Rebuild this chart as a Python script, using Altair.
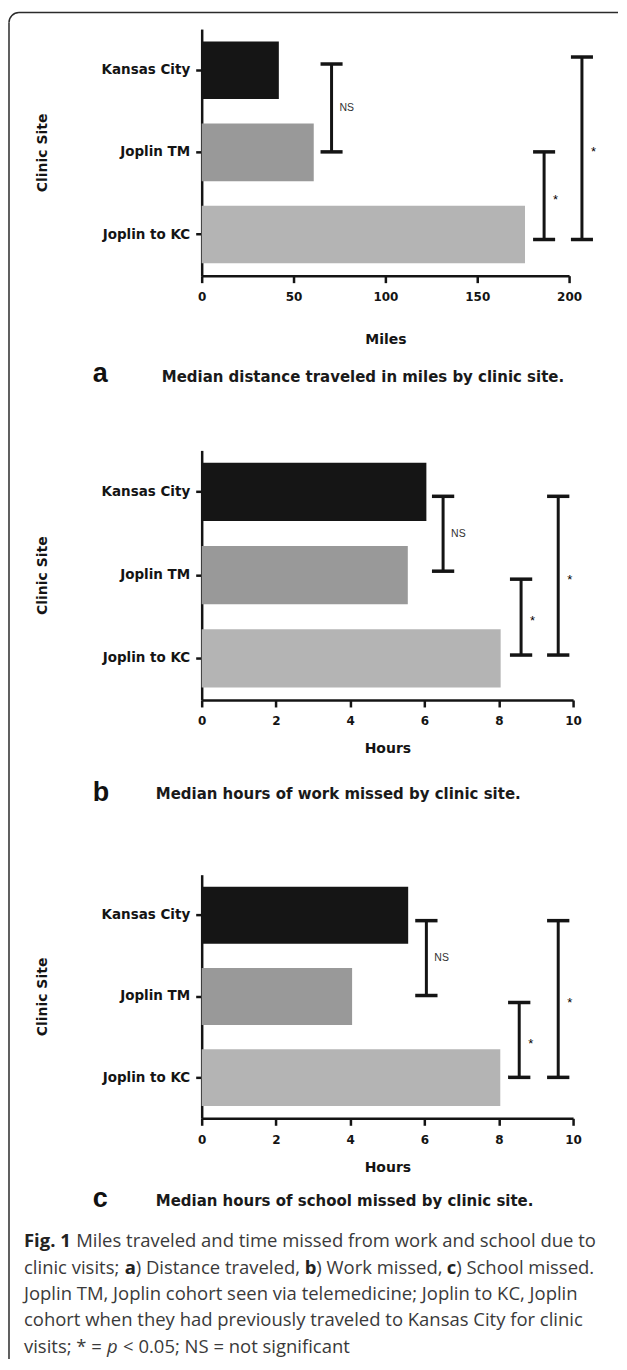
import altair as alt
import pandas as pd
import math

# ---------------- data ----------------
sites = ["Kansas City", "Joplin TM", "Joplin to KC"]
bar_colors = ["#151515", "#999999", "#b4b4b4"]

miles = [42, 61, 176]
work_hours = [6.05, 5.55, 8.05]
school_hours = [5.56, 4.05, 8.04]

# significance brackets: x position (axis units), ends in category units
# (0 = Kansas City, 1 = Joplin TM, 2 = Joplin to KC) and label
br_labels = ["NS", "*", "*"]
miles_br_x = [70.7, 186.4, 207.0]
miles_br_top = [-0.075, 0.994, -0.16]
miles_br_bottom = [0.994, 2.06, 2.06]
work_br_x = [6.5, 8.6, 9.6]
work_br_top = [0.052, 1.048, 0.052]
work_br_bottom = [0.952, 1.96, 1.96]
school_br_x = [6.05, 8.55, 9.6]
school_br_top = [0.066, 1.074, 0.066]
school_br_bottom = [0.988, 1.996, 1.996]

miles_ticks = [0, 50, 100, 150, 200]
hour_ticks = [0, 2, 4, 6, 8, 10]

panel_letters = ["a", "b", "c"]
panel_captions = [
    "Median distance traveled in miles by clinic site.",
    "Median hours of work missed by clinic site.",
    "Median hours of school missed by clinic site.",
]
x_titles = ["Miles", "Hours", "Hours"]
y_title = "Clinic Site"

caption_segments = [
    "Fig. 1",
    "Miles traveled and time missed from work and school due to",
    "clinic visits;", "a", ") Distance traveled,", "b", ") Work missed,", "c", ") School missed.",
    "Joplin TM, Joplin cohort seen via telemedicine; Joplin to KC, Joplin",
    "cohort when they had previously traveled to Kansas City for clinic",
    "visits; * =", "p", "< 0.05; NS = not significant",
]

# ---------------- style ----------------
GP_FONT = "DejaVu Sans"
INK = "#141414"
FRAME = "#2b2b2b"
CAP_FONT = "Open Sans"
CAP_SIZE = 18.5

ONE = pd.DataFrame({"k": [0]})


def text_layer(txt, x, y, font, size, weight="normal", style="normal", color=INK, align="left"):
    return alt.Chart(pd.DataFrame({"t": [txt]})).mark_text(
        align=align, baseline="alphabetic", font=font, fontSize=size,
        fontWeight=weight, fontStyle=style, color=color,
    ).encode(text="t:N", x=alt.value(x), y=alt.value(y))


def panel(values, br_x, br_top, br_bottom, xmax, ticks, xtitle, width, height,
          cap_half, title_y, letter, caption, letter_pos, caption_pos, extra=()):
    bars_df = pd.DataFrame({"site": sites, "value": values})
    br_df = pd.DataFrame({"x": br_x, "top": br_top, "bottom": br_bottom, "label": br_labels})
    xscale = alt.Scale(domain=[0, xmax], nice=False, zero=True)
    yq = alt.Scale(domain=[-0.5, 2.5], reverse=True)

    bars = alt.Chart(bars_df).mark_bar().encode(
        x=alt.X("value:Q", scale=xscale, title=xtitle,
                axis=alt.Axis(values=ticks, title=xtitle, titleY=title_y, titleBaseline="middle",
                              titleFont=GP_FONT, titleFontSize=14, titleFontWeight="bold", titleColor=INK,
                              labelFont=GP_FONT, labelFontSize=12, labelFontWeight="bold", labelColor=INK,
                              labelPadding=9, labelFlush=False, tickSize=7, tickWidth=2.5, tickColor=INK,
                              domainWidth=2.5, domainColor=INK, grid=False)),
        y=alt.Y("site:N", sort=sites, scale=alt.Scale(paddingInner=0.3, paddingOuter=0.15),
                axis=alt.Axis(title=y_title, titleX=-159, titleY=height / 2, titleBaseline="middle",
                              titleFont=GP_FONT, titleFontSize=14, titleFontWeight="bold", titleColor=INK,
                              labelFont=GP_FONT, labelFontSize=13.5, labelFontWeight="bold", labelColor=INK,
                              labelPadding=6, tickSize=6, tickWidth=2.5, tickColor=INK,
                              domainWidth=2.5, domainColor=INK, grid=False)),
        color=alt.Color("site:N", scale=alt.Scale(domain=sites, range=bar_colors), legend=None),
    )

    br = alt.Chart(br_df)
    vert = br.mark_rule(color=INK, strokeWidth=3).encode(
        x=alt.X("x:Q", scale=xscale, title=xtitle),
        y=alt.Y("top:Q", scale=yq, axis=None), y2="bottom:Q",
    )
    caps = br.transform_calculate(
        xl=f"datum.x - {cap_half}", xr=f"datum.x + {cap_half}"
    )
    cap_top = caps.mark_rule(color=INK, strokeWidth=3.5).encode(
        x=alt.X("xl:Q", scale=xscale, title=xtitle), x2="xr:Q",
        y=alt.Y("top:Q", scale=yq, axis=None),
    )
    cap_bot = caps.mark_rule(color=INK, strokeWidth=3.5).encode(
        x=alt.X("xl:Q", scale=xscale, title=xtitle), x2="xr:Q",
        y=alt.Y("bottom:Q", scale=yq, axis=None),
    )
    mids = br.transform_calculate(mid="(datum.top + datum.bottom) / 2")
    ns = mids.transform_filter("datum.label == 'NS'").mark_text(
        align="left", baseline="middle", dx=8, font="Liberation Sans", fontSize=10.5, color="#333"
    ).encode(x=alt.X("x:Q", scale=xscale, title=xtitle),
             y=alt.Y("mid:Q", scale=yq, axis=None), text="label:N")
    star = mids.transform_filter("datum.label == '*'").mark_text(
        align="left", baseline="middle", dx=9, dy=4, font="Liberation Sans", fontSize=13, color="#000"
    ).encode(x=alt.X("x:Q", scale=xscale, title=xtitle),
             y=alt.Y("mid:Q", scale=yq, axis=None), text="label:N")

    let = text_layer(letter, letter_pos[0], letter_pos[1], "Liberation Sans", 27, "bold", color="#111")
    cap = text_layer(caption, caption_pos[0], caption_pos[1], GP_FONT, 15, "bold", color="#1a1a1a")

    return alt.layer(bars, vert, cap_top, cap_bot, ns, star, let, cap, *extra).resolve_scale(
        y="independent"
    ).properties(width=width, height=height)


# outer frame: top edge, left edge and rounded top-left corner (drawn in panel a's frame);
# the right and bottom edges fall outside the picture in the reference
frame_left_x, frame_top_y, frame_r = -193, -16.5, 10
frame_top = alt.Chart(ONE).mark_rule(color=FRAME, strokeWidth=1.5).encode(
    x=alt.value(frame_left_x + frame_r), x2=alt.value(417), y=alt.value(frame_top_y))
frame_left = alt.Chart(ONE).mark_rule(color=FRAME, strokeWidth=1.5).encode(
    x=alt.value(frame_left_x), y=alt.value(frame_top_y + frame_r), y2=alt.value(1332))
frame_corner = alt.Chart(ONE).mark_arc(color=FRAME).encode(
    x=alt.value(frame_left_x + frame_r), y=alt.value(frame_top_y + frame_r),
    theta=alt.value(1.5 * math.pi), theta2=alt.value(2 * math.pi),
    radius=alt.value(frame_r + 0.75), radius2=alt.value(frame_r - 0.75))

# figure caption (drawn in panel c's frame)
cx = -178
ly = [373, 399.5, 426, 452.5, 479]
seg_layout = [
    (0, 0.0, "bold", "normal", "#222"),
    (0, 52.3, "normal", "normal", "#3a3a3a"),
    (1, 0.0, "normal", "normal", "#3a3a3a"),
    (1, 101.0, "bold", "normal", "#222"),
    (1, 111.9, "normal", "normal", "#3a3a3a"),
    (1, 281.2, "bold", "normal", "#222"),
    (1, 292.8, "normal", "normal", "#3a3a3a"),
    (1, 423.5, "bold", "normal", "#222"),
    (1, 432.9, "normal", "normal", "#3a3a3a"),
    (2, 0.0, "normal", "normal", "#3a3a3a"),
    (3, 0.0, "normal", "normal", "#3a3a3a"),
    (4, 0.0, "normal", "normal", "#3a3a3a"),
    (4, 83.1, "normal", "italic", "#3a3a3a"),
    (4, 99.3, "normal", "normal", "#3a3a3a"),
]
caption_layers = [
    text_layer(txt, cx + dx, ly[line], CAP_FONT, CAP_SIZE, w, s, c)
    for txt, (line, dx, w, s, c) in zip(caption_segments, seg_layout)
]

pa = panel(miles, miles_br_x, miles_br_top, miles_br_bottom, 200, miles_ticks, x_titles[0],
           368, 247, 6.0, 64, panel_letters[0], panel_captions[0], (-109, 354), (-40, 354),
           extra=(frame_top, frame_left, frame_corner))
pb = panel(work_hours, work_br_x, work_br_top, work_br_bottom, 10, hour_ticks, x_titles[1],
           372, 250, 0.3, 49, panel_letters[1], panel_captions[1], (-109, 351), (-46, 349))
pc = panel(school_hours, school_br_x, school_br_top, school_br_bottom, 10, hour_ticks, x_titles[2],
           372, 244, 0.3, 49, panel_letters[2], panel_captions[2], (-109, 333), (-46, 332),
           extra=tuple(caption_layers))

chart = alt.vconcat(
    pa, pb, pc, spacing=175, bounds="flush",
    padding={"left": 0, "top": 2, "right": 0, "bottom": 0}, background="white",
).configure_view(stroke=None)

chart.save("out.html", embed_options={"renderer": "svg", "actions": False})
